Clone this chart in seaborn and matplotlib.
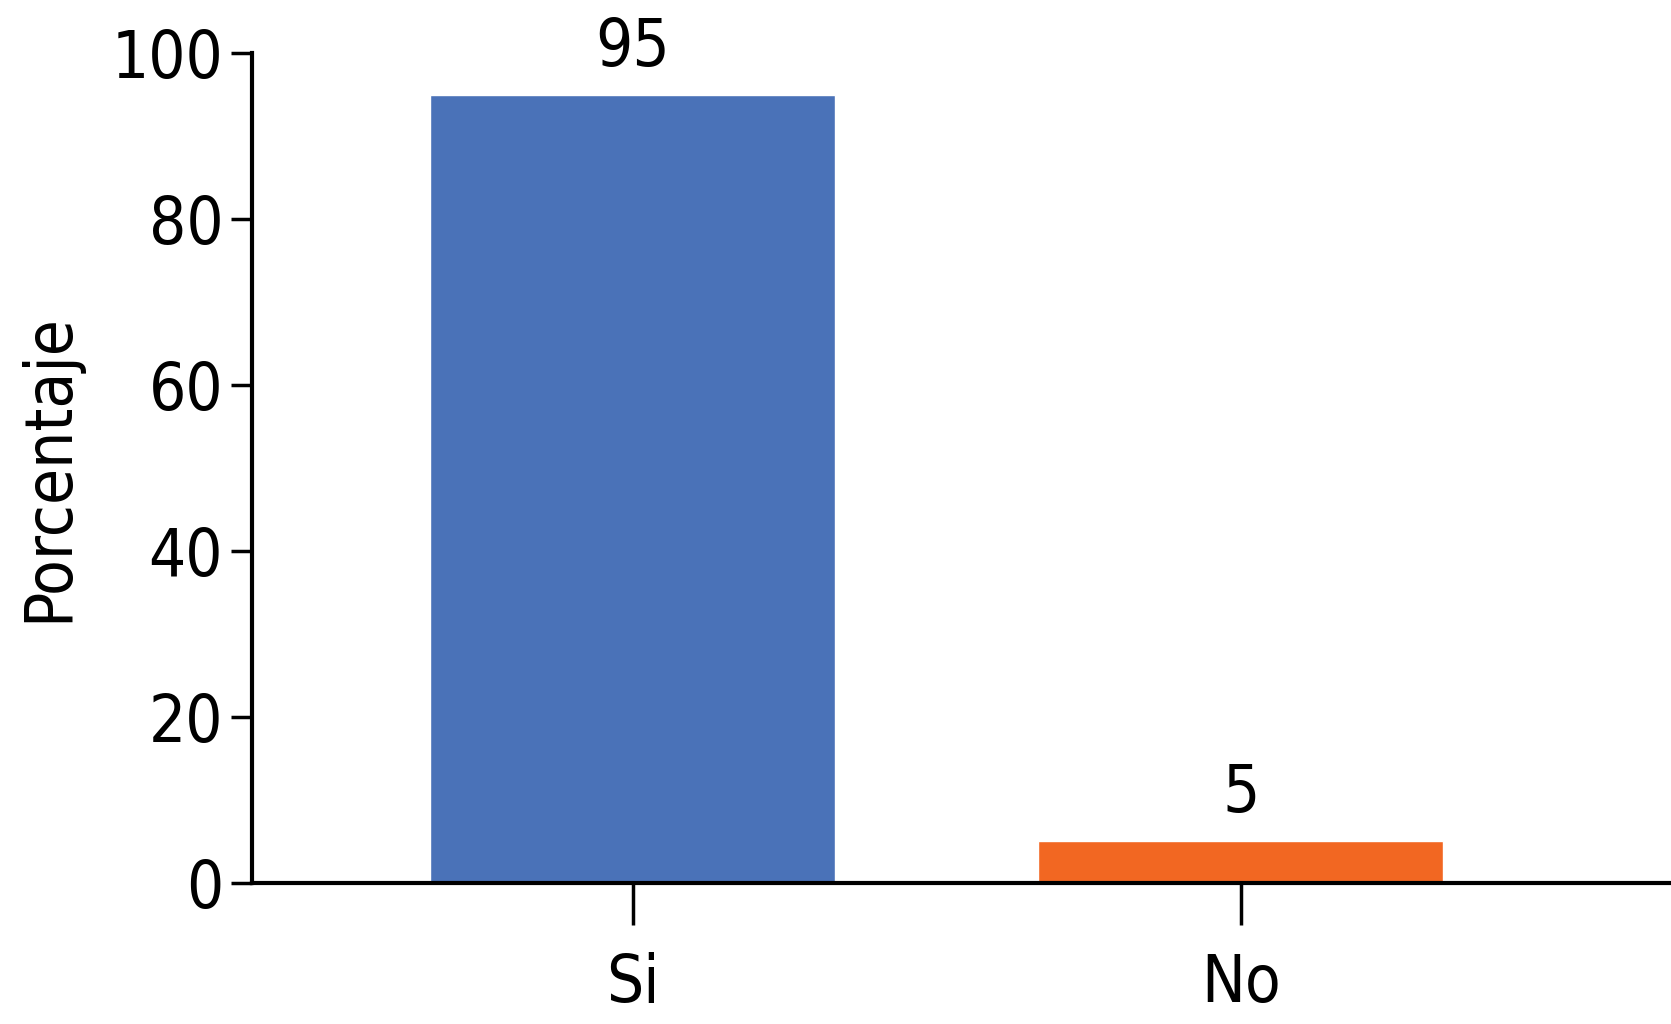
import matplotlib
matplotlib.use("Agg")
import matplotlib.pyplot as plt
import seaborn as sns
import pandas as pd

categories = ["Si", "No"]
values = [95, 5]
colors = ["#4A72B8", "#F26722"]

sns.set_style("white")
plt.rcParams['font.family'] = ['DejaVu Sans']
plt.rcParams['font.stretch'] = 'condensed'
plt.rcParams['text.color'] = 'black'
plt.rcParams['axes.labelcolor'] = 'black'
plt.rcParams['xtick.color'] = 'black'
plt.rcParams['ytick.color'] = 'black'

df = pd.DataFrame({"respuesta": categories, "porcentaje": values})

fig = plt.figure(figsize=(16.71, 10.24), dpi=100)
ax = fig.add_axes([0.151, 0.138, 0.849, 0.810])
sns.barplot(data=df, x="respuesta", y="porcentaje", hue="respuesta",
            palette=colors, width=0.666, saturation=1, legend=False, ax=ax)

# value labels above bars
for i, v in enumerate(values):
    ax.text(i, v + 1.8, str(v), ha="center", va="bottom", fontsize=47)

ax.set_ylim(0, 100)
ax.set_xlim(-0.625, 1.707)
ax.set_yticks([0, 20, 40, 60, 80, 100])
ax.set_xlabel("")
ax.set_ylabel("Porcentaje", fontsize=47, labelpad=22)
ax.tick_params(axis="y", labelsize=47, length=15, width=2.5, direction="out", left=True, pad=6)
ax.tick_params(axis="x", labelsize=47, length=30, width=2.5, direction="out", bottom=True, pad=20)
sns.despine(ax=ax)
ax.spines["left"].set_linewidth(3)
ax.spines["bottom"].set_linewidth(3)
ax.spines["left"].set_color("black")
ax.spines["bottom"].set_color("black")

plt.savefig("out.png", dpi=100)
plt.close()
